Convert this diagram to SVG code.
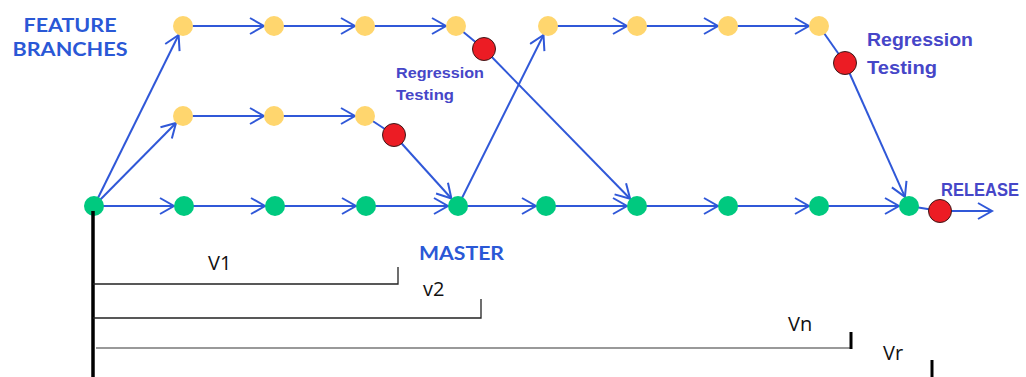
<svg xmlns="http://www.w3.org/2000/svg" width="1026" height="377" viewBox="0 0 1026 377">
<style>
.c{stroke:#3058d8;stroke-width:2;fill:none}
.a{marker-end:url(#ah)}
.y{fill:#ffd66e}
.g{fill:#00c97f}
.r{fill:#ec1c24;stroke:#3a1a1a;stroke-width:1}
.lbl{font-family:"Lato","Liberation Sans",sans-serif;font-weight:bold;fill:#2a58d6}
.rt{font-family:"Liberation Sans",sans-serif;font-weight:bold;fill:#4646c8}
.v{font-family:"Open Sans","Liberation Sans",sans-serif;font-size:20px;fill:#111}
.k{stroke:#222;stroke-width:1.3;fill:none}
</style>
<defs>
<marker id="ah" markerUnits="userSpaceOnUse" markerWidth="18" markerHeight="20" refX="15" refY="9" orient="auto">
<path d="M1,1 L15,9 L1,17" fill="none" stroke="#3058d8" stroke-width="2"/>
</marker>
</defs>
<g id="connectors">
<line class="c a" x1="94" y1="206" x2="174" y2="206"/>
<line class="c a" x1="184" y1="206" x2="265" y2="206"/>
<line class="c a" x1="275" y1="206" x2="356" y2="206"/>
<line class="c a" x1="366" y1="206" x2="448" y2="206"/>
<line class="c a" x1="458" y1="206" x2="536" y2="206"/>
<line class="c a" x1="546" y1="206" x2="627" y2="206"/>
<line class="c a" x1="637" y1="206" x2="718" y2="206"/>
<line class="c a" x1="728" y1="206" x2="809" y2="206"/>
<line class="c a" x1="819" y1="206" x2="899" y2="206"/>
<line class="c" x1="909" y1="206" x2="940" y2="211"/>
<line class="c a" x1="940" y1="211" x2="992" y2="211"/>
<line class="c a" x1="183" y1="26" x2="264" y2="26"/>
<line class="c a" x1="274" y1="26" x2="355" y2="26"/>
<line class="c a" x1="365" y1="26" x2="446" y2="26"/>
<line class="c" x1="456" y1="26" x2="484" y2="49"/>
<line class="c a" x1="548" y1="26" x2="627" y2="26"/>
<line class="c a" x1="637" y1="26" x2="718" y2="26"/>
<line class="c a" x1="728" y1="26" x2="809" y2="26"/>
<line class="c" x1="819" y1="26" x2="845" y2="63"/>
<line class="c a" x1="183" y1="116" x2="264" y2="116"/>
<line class="c a" x1="274" y1="116" x2="355" y2="116"/>
<line class="c" x1="365" y1="116" x2="394" y2="135"/>
<line class="c a" x1="94" y1="206" x2="178.6" y2="35"/>
<line class="c a" x1="94" y1="206" x2="176" y2="123"/>
<line class="c a" x1="394" y1="135" x2="451.4" y2="198.5"/>
<line class="c a" x1="484" y1="49" x2="630.1" y2="198.8"/>
<line class="c a" x1="458" y1="206" x2="543.5" y2="35"/>
<line class="c a" x1="845" y1="63" x2="904.9" y2="196.9"/>
</g>
<g id="master-nodes">
<circle id="m1" class="g" cx="94" cy="206" r="10"/>
<circle id="m2" class="g" cx="184" cy="206" r="10"/>
<circle id="m3" class="g" cx="275" cy="206" r="10"/>
<circle id="m4" class="g" cx="366" cy="206" r="10"/>
<circle id="m5" class="g" cx="458" cy="206" r="10"/>
<circle id="m6" class="g" cx="546" cy="206" r="10"/>
<circle id="m7" class="g" cx="637" cy="206" r="10"/>
<circle id="m8" class="g" cx="728" cy="206" r="10"/>
<circle id="m9" class="g" cx="819" cy="206" r="10"/>
<circle id="m10" class="g" cx="909" cy="206" r="10"/>
</g>
<g id="feature-nodes">
<circle id="f1" class="y" cx="183" cy="26" r="10"/>
<circle id="f2" class="y" cx="274" cy="26" r="10"/>
<circle id="f3" class="y" cx="365" cy="26" r="10"/>
<circle id="f4" class="y" cx="456" cy="26" r="10"/>
<circle id="f5" class="y" cx="548" cy="26" r="10"/>
<circle id="f6" class="y" cx="637" cy="26" r="10"/>
<circle id="f7" class="y" cx="728" cy="26" r="10"/>
<circle id="f8" class="y" cx="819" cy="26" r="10"/>
<circle id="g1" class="y" cx="183" cy="116" r="10"/>
<circle id="g2" class="y" cx="274" cy="116" r="10"/>
<circle id="g3" class="y" cx="365" cy="116" r="10"/>
</g>
<g id="test-nodes">
<circle id="t1" class="r" cx="484" cy="49" r="11.5"/>
<circle id="t2" class="r" cx="394" cy="135" r="11.5"/>
<circle id="t3" class="r" cx="845" cy="63" r="11.5"/>
<circle id="t4" class="r" cx="940" cy="211" r="11.5"/>
</g>
<g id="labels">
<text class="lbl" x="70" y="32" font-size="19" text-anchor="middle" textLength="93" lengthAdjust="spacingAndGlyphs">FEATURE</text>
<text class="lbl" x="70" y="56" font-size="19" text-anchor="middle" textLength="115" lengthAdjust="spacingAndGlyphs">BRANCHES</text>
<text class="lbl" x="419" y="260" font-size="19" textLength="85" lengthAdjust="spacingAndGlyphs">MASTER</text>
<text class="rt" x="396" y="78" font-size="15" textLength="88" lengthAdjust="spacingAndGlyphs">Regression</text>
<text class="rt" x="396" y="100" font-size="15" textLength="58" lengthAdjust="spacingAndGlyphs">Testing</text>
<text class="rt" x="867" y="46" font-size="19" textLength="106" lengthAdjust="spacingAndGlyphs">Regression</text>
<text class="rt" x="867" y="74" font-size="19" textLength="70" lengthAdjust="spacingAndGlyphs">Testing</text>
<text class="rt" x="941" y="196" font-size="18" textLength="78" lengthAdjust="spacingAndGlyphs">RELEASE</text>
</g>
<g id="versions">
<line x1="93" y1="211" x2="93" y2="377" stroke="#000" stroke-width="3.5"/>
<polyline class="k" points="93,284 398,284 398,267"/>
<polyline class="k" points="93,318 481,318 481,299"/>
<line x1="96" y1="348" x2="851" y2="348" stroke="#777" stroke-width="1.3"/>
<line x1="851" y1="332" x2="851" y2="349" stroke="#000" stroke-width="3"/>
<line x1="932" y1="360" x2="932" y2="377" stroke="#000" stroke-width="3"/>
<text class="v" x="208" y="270">V1</text>
<text class="v" x="423" y="296">v2</text>
<text class="v" x="788" y="331">Vn</text>
<text class="v" x="883" y="360">Vr</text>
</g>
</svg>
